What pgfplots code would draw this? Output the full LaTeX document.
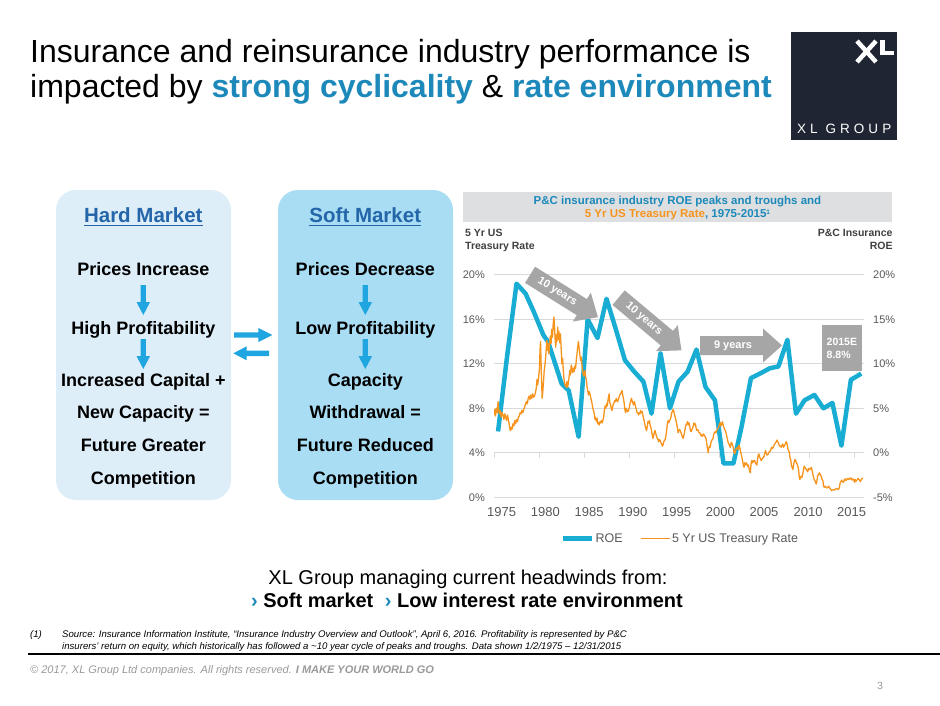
\documentclass[border=0pt]{standalone}
\usepackage{pgfplots}
\pgfplotsset{compat=1.18}
\usepackage{fontspec}
\setmainfont{Liberation Sans}

\definecolor{roecyan}{HTML}{1AADD4}
\definecolor{tsyorange}{HTML}{F7941E}
\definecolor{gridgray}{HTML}{D9D9D9}
\definecolor{ticklabelgray}{HTML}{595959}
\definecolor{titleblue}{HTML}{1C89BA}
\definecolor{arrowgray}{HTML}{A6A6A6}
\definecolor{hardfill}{HTML}{DDEEF9}
\definecolor{softfill}{HTML}{A9DDF4}
\definecolor{marketblue}{HTML}{2466A9}
\definecolor{flowblue}{HTML}{1FA5E0}
\definecolor{logobg}{HTML}{1F2533}
\definecolor{headerbox}{HTML}{DEDFE0}
\definecolor{axtitle}{HTML}{404040}
\definecolor{footgray}{HTML}{9A9A9A}

\newcommand{\fs}[1]{\fontsize{#1}{#1}\selectfont}

% gray block arrow: centre x, centre y, angle, length, text
\newcommand{\grayarrow}[5]{%
  \begin{scope}[shift={(#1,#2)},rotate=#3]
    \fill[arrowgray] ({-#4/2},-9.5) -- ({#4/2-19},-9.5) -- ({#4/2-19},-17) -- ({#4/2},0)
      -- ({#4/2-19},17) -- ({#4/2-19},9.5) -- ({-#4/2},9.5) -- cycle;
    \node[rotate=#3,text=white,inner sep=0pt,font=\bfseries\fs{11}] at (-8,0) {#5};
  \end{scope}}

% blue down arrow: x, y top, y tip
\newcommand{\flowdown}[3]{%
  \fill[flowblue] ({#1-2.6},#2) -- ({#1+2.6},#2) -- ({#1+2.6},{#3-13}) -- ({#1+6.8},{#3-13})
    -- (#1,#3) -- ({#1-6.8},{#3-13}) -- ({#1-2.6},{#3-13}) -- cycle;}

\begin{document}
\begin{tikzpicture}
\begin{scope}[x=1pt,y=-1pt]
  \useasboundingbox (0,0) rectangle (940,705);
  \fill[white] (0,0) rectangle (940,705);

  % title
  \node[anchor=base west,inner sep=0pt,font=\fs{32}] at (30,62)
    {Insurance and reinsurance industry performance is};
  \node[anchor=base west,inner sep=0pt,font=\fs{32}] at (30,97)
    {impacted by \textcolor{titleblue}{\bfseries strong cyclicality} \& \textcolor{titleblue}{\bfseries rate environment}};

  % logo
  \fill[logobg] (791,31.5) rectangle (897,140);
  \draw[white,line width=4.5pt] (857,41) -- (876,62) (876,41) -- (857,62);
  \fill[white] (880,40) rectangle (885,55);
  \fill[white] (880,50.5) rectangle (894,55);
  \node[anchor=base west,inner sep=0pt,text=white,font=\fs{13.5}\addfontfeature{LetterSpace=30}] at (797,133) {XL GROUP};

  % hard / soft market boxes
  \fill[hardfill,rounded corners=20pt] (56,190) rectangle (231,500);
  \fill[softfill,rounded corners=20pt] (278,190) rectangle (453,500);

  \node[name=hm,anchor=base,inner sep=0pt,text=marketblue,font=\bfseries\fs{20.5}] at (143.3,222.7) {Hard Market};
  \draw[marketblue,line width=1.8pt] ([yshift=-2.8pt]hm.base west) -- ([yshift=-2.8pt]hm.base east);
  \node[name=sm,anchor=base,inner sep=0pt,text=marketblue,font=\bfseries\fs{20.5}] at (365.3,222.7) {Soft Market};
  \draw[marketblue,line width=1.8pt] ([yshift=-2.8pt]sm.base west) -- ([yshift=-2.8pt]sm.base east);

  \begin{scope}[every node/.style={anchor=base,inner sep=0pt,font=\bfseries\fs{18}}]
    \node at (143.3,275) {Prices Increase};
    \node at (143.3,334) {High Profitability};
    \node at (143.3,386) {Increased Capital +};
    \node at (143.3,418.5) {New Capacity =};
    \node at (143.3,451.5) {Future Greater};
    \node at (143.3,484) {Competition};
    \node at (365.3,275) {Prices Decrease};
    \node at (365.3,334) {Low Profitability};
    \node at (365.3,386) {Capacity};
    \node at (365.3,418.5) {Withdrawal =};
    \node at (365.3,451.5) {Future Reduced};
    \node at (365.3,484) {Competition};
  \end{scope}
  \flowdown{143.3}{285}{315}
  \flowdown{143.3}{339}{369}
  \flowdown{365.3}{285}{315}
  \flowdown{365.3}{339}{369}

  % arrows between the boxes
  \fill[flowblue] (234,332.3) -- (258.3,332.3) -- (258.3,328) -- (272.3,335) -- (258.3,342) -- (258.3,337.7) -- (234,337.7) -- cycle;
  \fill[flowblue] (269,350.6) -- (246.7,350.6) -- (246.7,346.3) -- (233.3,353.3) -- (246.7,360.3) -- (246.7,356) -- (269,356) -- cycle;

  % chart header
  \fill[headerbox] (463,191.7) rectangle (891.7,221.7);
  \node[anchor=base,inner sep=0pt,text=titleblue,font=\bfseries\fs{11.5}] at (677.5,204)
    {P\&C insurance industry ROE peaks and troughs and};
  \node[anchor=base,inner sep=0pt,text=titleblue,font=\bfseries\fs{11.5}] at (677.5,217.7)
    {\textcolor{tsyorange}{5 Yr US Treasury Rate}, 1975-2015\raisebox{3.5pt}{\fs{6.5}1}};

  % axis titles
  \begin{scope}[every node/.style={inner sep=0pt,text=axtitle,font=\bfseries\fs{10.5}}]
    \node[anchor=base west] at (465,236.7) {5 Yr US};
    \node[anchor=base west] at (465,249) {Treasury Rate};
    \node[anchor=base east] at (892.7,236.7) {P\&C Insurance};
    \node[anchor=base east] at (892.7,249) {ROE};
  \end{scope}

  % bottom message
  \node[anchor=base,inner sep=0pt,font=\fs{20}] at (468,584) {XL Group managing current headwinds from:};
  \node[anchor=base,inner sep=0pt,font=\bfseries\fs{20}] at (467,607)
    {\textcolor{titleblue}{›} Soft market\hspace{6pt} \textcolor{titleblue}{›} Low interest rate environment};

  % footnote
  \begin{scope}[every node/.style={anchor=base west,inner sep=0pt,font=\itshape\fs{9.6}}]
    \node at (30,637) {(1)};
    \node at (62,637) {Source: Insurance Information Institute, “Insurance Industry Overview and Outlook”, April 6, 2016. Profitability is represented by P\&C};
    \node at (62,649) {insurers' return on equity, which historically has followed a \textasciitilde10 year cycle of peaks and troughs. Data shown 1/2/1975 – 12/31/2015};
  \end{scope}
  \draw[black,line width=1.2pt] (28,654) -- (940,654);
  \node[anchor=base west,inner sep=0pt,text=footgray,font=\itshape\fs{11}] at (30,673)
    {© 2017, XL Group Ltd companies. All rights reserved. \textbf{I MAKE YOUR WORLD GO}};
  \node[anchor=base,inner sep=0pt,text=footgray,font=\fs{10.5}] at (880,689) {3};
\end{scope}

% P&C ROE, right axis
\begin{axis}[
  at={(494pt,-497.3pt)}, anchor=south west,
  scale only axis, width=370pt, height=222.5pt,
  xmin=1975, xmax=2016.11, ymin=-5, ymax=20,
  axis line style={draw=none},
  major tick length=0pt,
  ymajorgrids, grid style={gridgray,line width=0.8pt},
  ytick={-5,0,5,10,15,20},
  yticklabels={-5\%,0\%,5\%,10\%,15\%,20\%},
  yticklabel pos=right,
  yticklabel style={anchor=west,inner sep=0pt,xshift=9pt,font=\fs{11},text=ticklabelgray},
  xtick={1975.85,1980.71,1985.57,1990.43,1995.29,2000.15,2005.0,2009.9,2014.74},
  xticklabels={1975,1980,1985,1990,1995,2000,2005,2010,2015},
  xticklabel style={anchor=north,inner sep=0pt,yshift=-10pt,font=\fs{13},text=ticklabelgray},
  /pgf/number format/assume math mode=true,
]
\pgfplotsinvokeforeach{1975,1980,1985,1990,1995,2000,2005,2010,2015}{
  \draw[gridgray,line width=0.8pt] (axis cs:#1,0) -- ++(0pt,-5pt);}
\addplot[roecyan,line width=4.5pt,line join=round] coordinates {
(1975.45,2.4) (1976.45,10.8) (1977.5,19.0) (1978.5,17.9) (1979.4,15.9)
(1980.5,13.2) (1981.0,12.5) (1982.5,7.8) (1983.3,7.0) (1984.4,1.8)
(1985.4,15.0) (1986.5,12.9) (1987.5,17.3) (1988.5,14.0) (1989.55,10.4)
(1990.6,9.1) (1991.6,8.0) (1992.5,4.4) (1993.5,11.2) (1994.55,5.0)
(1995.5,8.0) (1996.5,9.1) (1997.5,11.6) (1998.5,7.4) (1999.55,5.9)
(2000.5,-1.2) (2001.6,-1.2) (2002.5,2.9) (2003.55,8.4) (2004.55,8.9)
(2005.65,9.5) (2006.6,9.7) (2007.6,12.7) (2008.55,4.4) (2009.5,5.9)
(2010.6,6.5) (2011.6,5.0) (2012.6,5.6) (2013.6,0.8) (2014.65,8.2)
(2015.8,8.9)
};
\end{axis}

% 5 Yr US Treasury rate, left axis
\begin{axis}[
  at={(494pt,-497.3pt)}, anchor=south west,
  scale only axis, width=370pt, height=222.5pt,
  xmin=1975, xmax=2016.11, ymin=0, ymax=20,
  axis line style={draw=none},
  major tick length=0pt,
  xtick=\empty,
  ytick={0,4,8,12,16,20},
  yticklabels={0\%,4\%,8\%,12\%,16\%,20\%},
  yticklabel pos=left,
  yticklabel style={anchor=east,inner sep=0pt,xshift=-9pt,font=\fs{11},text=ticklabelgray},
  /pgf/number format/assume math mode=true,
  legend columns=2,
  legend style={at={(0.503,-0.185)},anchor=center,draw=none,fill=none,
    font=\fs{12.5},text=ticklabelgray,nodes={inner sep=1pt},
    /tikz/every even column/.append style={column sep=17pt}},
  legend image code/.code={\draw[#1] (0pt,0pt) -- (29pt,0pt);},
]
\addlegendimage{roecyan,line width=4.5pt}
\addlegendentry{ROE}
\addplot[tsyorange,line width=1.3pt,line join=round] coordinates {
(1975.00,7.4) (1975.08,7.9) (1975.16,7.3) (1975.25,8.0) (1975.35,7.6) (1975.45,8.6)
(1975.52,7.9) (1975.60,7.5) (1975.70,7.8) (1975.80,7.2) (1975.90,7.6) (1976.00,7.4)
(1976.10,7.0) (1976.20,7.5) (1976.30,7.2) (1976.40,6.9) (1976.50,7.4) (1976.60,7.0)
(1976.70,6.5) (1976.80,6.0) (1976.90,6.3) (1977.00,6.1) (1977.10,6.6) (1977.20,6.4)
(1977.30,6.9) (1977.40,6.6) (1977.50,7.0) (1977.60,6.8) (1977.70,7.2) (1977.80,7.3)
(1977.90,7.6) (1978.00,7.5) (1978.10,7.8) (1978.20,7.6) (1978.30,7.9) (1978.40,8.1)
(1978.50,8.4) (1978.60,8.6) (1978.70,8.4) (1978.80,8.9) (1978.90,9.1) (1979.00,8.8)
(1979.10,9.2) (1979.20,8.9) (1979.30,9.3) (1979.40,9.0) (1979.50,9.1) (1979.60,9.4)
(1979.70,9.8) (1979.78,10.6) (1979.85,10.1) (1979.95,10.7) (1980.05,11.6) (1980.12,13.3)
(1980.17,14.0) (1980.22,12.4) (1980.28,10.6) (1980.35,8.9) (1980.42,9.5) (1980.50,10.4)
(1980.58,11.4) (1980.66,11.9) (1980.74,12.6) (1980.82,13.5) (1980.88,14.1) (1980.95,13.2)
(1981.02,13.8) (1981.10,12.9) (1981.18,13.9) (1981.26,14.5) (1981.34,13.8) (1981.42,15.1)
(1981.50,14.4) (1981.58,15.6) (1981.66,16.2) (1981.72,15.4) (1981.80,14.1) (1981.86,13.5)
(1981.92,14.6) (1982.00,14.0) (1982.08,15.3) (1982.15,14.2) (1982.22,14.9) (1982.30,13.9)
(1982.38,14.7) (1982.46,13.4) (1982.54,12.0) (1982.62,12.5) (1982.70,11.4) (1982.78,10.6)
(1982.86,10.2) (1982.94,10.0) (1983.02,9.9) (1983.10,10.4) (1983.18,9.9) (1983.26,10.3)
(1983.34,10.8) (1983.42,11.4) (1983.50,11.0) (1983.58,11.9) (1983.66,11.6) (1983.74,11.2)
(1983.82,11.6) (1983.90,11.3) (1983.98,11.8) (1984.06,11.6) (1984.14,12.3) (1984.22,12.9)
(1984.30,13.5) (1984.38,14.0) (1984.46,13.4) (1984.54,12.8) (1984.62,12.3) (1984.70,12.6)
(1984.78,11.8) (1984.86,11.3) (1984.94,10.9) (1985.02,11.0) (1985.10,11.4) (1985.18,10.8)
(1985.26,10.6) (1985.34,9.9) (1985.42,9.6) (1985.50,9.2) (1985.58,9.5) (1985.66,9.3)
(1985.74,9.0) (1985.82,8.7) (1985.90,8.4) (1985.98,8.0) (1986.06,7.8) (1986.14,7.5)
(1986.22,7.0) (1986.30,7.2) (1986.38,6.8) (1986.46,7.1) (1986.54,6.6) (1986.62,6.7)
(1986.70,6.5) (1986.78,6.8) (1986.86,6.7) (1986.94,6.9) (1987.02,6.7) (1987.10,6.9)
(1987.18,7.2) (1987.26,7.8) (1987.34,8.2) (1987.42,8.0) (1987.50,8.4) (1987.58,8.2)
(1987.66,8.7) (1987.74,9.1) (1987.80,9.3) (1987.86,8.5) (1987.94,8.4) (1988.02,8.0)
(1988.10,7.8) (1988.18,8.1) (1988.26,8.4) (1988.34,8.5) (1988.42,8.7) (1988.50,8.6)
(1988.58,8.9) (1988.66,8.7) (1988.74,8.6) (1988.82,8.8) (1988.90,9.0) (1988.98,9.2)
(1989.06,9.3) (1989.14,9.4) (1989.22,9.6) (1989.30,9.2) (1989.38,8.9) (1989.46,8.5)
(1989.54,7.9) (1989.62,7.6) (1989.70,8.0) (1989.78,7.8) (1989.86,7.7) (1989.94,7.8)
(1990.02,8.0) (1990.10,8.4) (1990.18,8.6) (1990.26,8.9) (1990.34,8.7) (1990.42,8.5)
(1990.50,8.3) (1990.58,8.6) (1990.66,8.4) (1990.74,8.1) (1990.82,7.9) (1990.90,7.6)
(1990.98,7.6) (1991.06,7.4) (1991.14,7.6) (1991.22,7.5) (1991.30,7.8) (1991.38,7.6)
(1991.46,7.7) (1991.54,7.4) (1991.62,7.1) (1991.70,6.8) (1991.78,6.5) (1991.86,6.2)
(1991.94,6.0) (1992.02,6.3) (1992.10,6.8) (1992.18,6.7) (1992.26,6.9) (1992.34,6.5)
(1992.42,6.3) (1992.50,6.0) (1992.58,5.6) (1992.66,5.3) (1992.74,5.5) (1992.82,5.9)
(1992.90,6.0) (1992.98,5.7) (1993.06,5.5) (1993.14,5.3) (1993.22,5.2) (1993.30,5.0)
(1993.38,5.2) (1993.46,5.1) (1993.54,4.9) (1993.62,4.8) (1993.70,4.6) (1993.78,4.7)
(1993.86,5.0) (1993.94,5.1) (1994.02,5.2) (1994.10,5.5) (1994.18,6.0) (1994.26,6.6)
(1994.34,6.9) (1994.42,6.7) (1994.50,6.9) (1994.58,7.0) (1994.66,7.2) (1994.74,7.6)
(1994.82,7.7) (1994.90,7.9) (1994.98,7.7) (1995.06,7.4) (1995.14,7.2) (1995.22,6.9)
(1995.30,6.6) (1995.38,6.2) (1995.46,5.8) (1995.54,6.0) (1995.62,6.1) (1995.70,6.0)
(1995.78,5.8) (1995.86,5.6) (1995.94,5.4) (1996.02,5.3) (1996.10,5.6) (1996.18,5.9)
(1996.26,6.3) (1996.34,6.5) (1996.42,6.6) (1996.50,6.8) (1996.58,6.5) (1996.66,6.7)
(1996.74,6.4) (1996.82,6.0) (1996.90,5.9) (1996.98,6.1) (1997.06,6.2) (1997.14,6.4)
(1997.22,6.7) (1997.30,6.5) (1997.38,6.6) (1997.46,6.2) (1997.54,6.0) (1997.62,6.1)
(1997.70,6.0) (1997.78,5.8) (1997.86,5.8) (1997.94,5.7) (1998.02,5.5) (1998.10,5.6)
(1998.18,5.5) (1998.26,5.7) (1998.34,5.6) (1998.42,5.5) (1998.50,5.4) (1998.58,5.2)
(1998.66,4.7) (1998.74,4.3) (1998.80,4.0) (1998.86,4.4) (1998.94,4.6) (1999.02,4.5)
(1999.10,4.9) (1999.18,5.1) (1999.26,5.2) (1999.34,5.3) (1999.42,5.7) (1999.50,5.8)
(1999.58,5.9) (1999.66,5.8) (1999.74,6.0) (1999.82,6.1) (1999.90,6.2) (1999.98,6.4)
(2000.06,6.6) (2000.14,6.7) (2000.22,6.4) (2000.30,6.6) (2000.38,6.8) (2000.46,6.5)
(2000.54,6.3) (2000.62,6.1) (2000.70,6.0) (2000.78,5.8) (2000.86,5.5) (2000.94,5.2)
(2001.02,4.9) (2001.10,4.8) (2001.18,4.6) (2001.26,4.5) (2001.34,4.9) (2001.42,4.9)
(2001.50,4.7) (2001.58,4.5) (2001.66,4.1) (2001.74,3.9) (2001.82,4.1) (2001.90,4.4)
(2001.98,4.4) (2002.06,4.5) (2002.14,4.3) (2002.22,4.7) (2002.30,4.5) (2002.38,4.2)
(2002.46,3.9) (2002.54,3.6) (2002.62,3.3) (2002.70,2.9) (2002.78,2.7) (2002.86,3.1)
(2002.94,2.9) (2003.02,3.1) (2003.10,3.0) (2003.18,2.8) (2003.26,2.9) (2003.34,2.6)
(2003.42,2.3) (2003.48,2.2) (2003.56,3.0) (2003.64,3.3) (2003.72,3.1) (2003.80,3.3)
(2003.88,3.2) (2003.96,3.3) (2004.04,3.1) (2004.12,3.0) (2004.20,2.9) (2004.28,3.4)
(2004.36,3.8) (2004.44,3.9) (2004.52,3.6) (2004.60,3.5) (2004.68,3.3) (2004.76,3.4)
(2004.84,3.5) (2004.92,3.6) (2005.00,3.7) (2005.08,3.9) (2005.16,4.2) (2005.24,4.0)
(2005.32,3.8) (2005.40,3.8) (2005.48,3.9) (2005.56,4.1) (2005.64,4.1) (2005.72,4.2)
(2005.80,4.4) (2005.88,4.5) (2005.96,4.4) (2006.04,4.5) (2006.12,4.7) (2006.20,4.8)
(2006.28,4.9) (2006.36,5.0) (2006.44,5.15) (2006.52,5.0) (2006.60,4.9) (2006.68,4.7)
(2006.76,4.6) (2006.84,4.6) (2006.92,4.5) (2007.00,4.7) (2007.08,4.8) (2007.16,4.5)
(2007.24,4.6) (2007.32,4.7) (2007.40,4.9) (2007.48,5.0) (2007.56,4.8) (2007.64,4.4)
(2007.72,4.2) (2007.80,4.1) (2007.88,3.6) (2007.96,3.4) (2008.04,2.9) (2008.12,2.7)
(2008.20,2.5) (2008.28,2.9) (2008.36,3.2) (2008.44,3.4) (2008.52,3.3) (2008.60,3.1)
(2008.68,3.0) (2008.76,2.8) (2008.84,2.5) (2008.92,1.8) (2008.98,1.6) (2009.06,1.8)
(2009.14,1.9) (2009.22,1.8) (2009.30,2.1) (2009.38,2.4) (2009.46,2.8) (2009.54,2.7)
(2009.62,2.6) (2009.70,2.5) (2009.78,2.4) (2009.86,2.3) (2009.94,2.6) (2010.02,2.5)
(2010.10,2.5) (2010.18,2.6) (2010.26,2.7) (2010.34,2.4) (2010.42,2.1) (2010.50,1.8)
(2010.58,1.6) (2010.66,1.5) (2010.74,1.3) (2010.82,1.2) (2010.90,1.6) (2010.98,2.0)
(2011.06,2.0) (2011.14,2.2) (2011.22,2.1) (2011.30,2.0) (2011.38,1.8) (2011.46,1.6)
(2011.54,1.5) (2011.62,1.0) (2011.70,0.9) (2011.78,1.0) (2011.86,0.95) (2011.94,0.85)
(2012.02,0.85) (2012.10,0.9) (2012.18,1.0) (2012.26,0.9) (2012.34,0.8) (2012.42,0.7)
(2012.50,0.6) (2012.58,0.65) (2012.66,0.65) (2012.74,0.7) (2012.82,0.65) (2012.90,0.7)
(2012.98,0.75) (2013.06,0.8) (2013.14,0.8) (2013.22,0.7) (2013.30,0.75) (2013.38,0.9)
(2013.46,1.3) (2013.54,1.4) (2013.62,1.55) (2013.70,1.45) (2013.78,1.35) (2013.86,1.4)
(2013.94,1.6) (2014.02,1.65) (2014.10,1.5) (2014.18,1.6) (2014.26,1.7) (2014.34,1.65)
(2014.42,1.6) (2014.50,1.7) (2014.58,1.65) (2014.66,1.75) (2014.74,1.6) (2014.82,1.55)
(2014.90,1.65) (2014.98,1.6) (2015.06,1.35) (2015.14,1.6) (2015.22,1.45) (2015.30,1.5)
(2015.38,1.6) (2015.46,1.7) (2015.54,1.6) (2015.62,1.55) (2015.70,1.4) (2015.78,1.55)
(2015.86,1.65) (2015.94,1.7) (2016.00,1.75)
};
\addlegendentry{5 Yr US Treasury Rate}
\end{axis}

% annotations over the chart
\begin{scope}[x=1pt,y=-1pt]
  \grayarrow{564}{296}{-32}{80}{10 years}
  \grayarrow{650}{324}{-40}{82}{10 years}
  \grayarrow{741}{345.5}{0}{82}{9 years}
  \fill[arrowgray] (822,325) rectangle (862,371);
  \node[anchor=base west,inner sep=0pt,text=white,font=\bfseries\fs{10.5}] at (826.5,345) {2015E};
  \node[anchor=base west,inner sep=0pt,text=white,font=\bfseries\fs{10.5}] at (826.5,358) {8.8\%};
\end{scope}
\end{tikzpicture}
\end{document}
